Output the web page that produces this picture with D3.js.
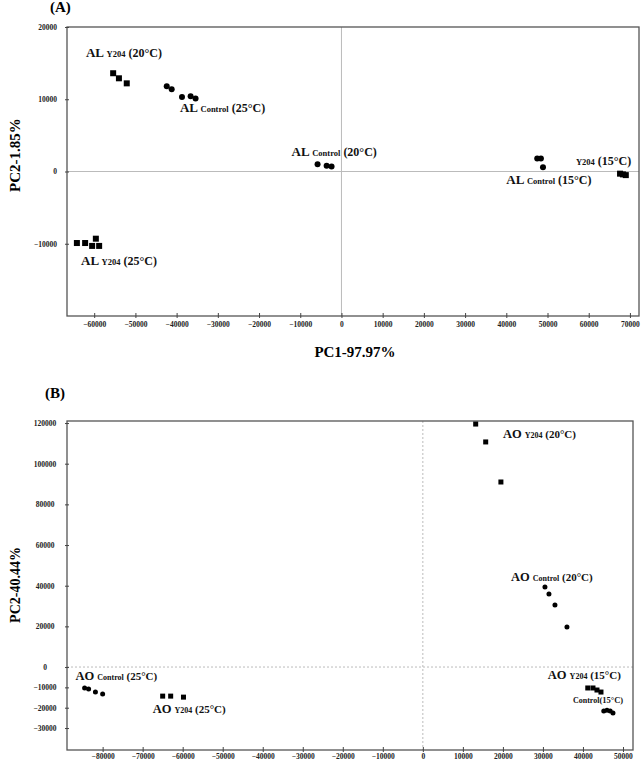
<!DOCTYPE html>
<html><head><meta charset="utf-8">
<script src="https://cdn.jsdelivr.net/npm/d3@7"></script>
<style>
body{margin:0;background:#fff;}
svg{display:block;font-family:"Liberation Serif","Times New Roman",serif;font-weight:bold;}
</style></head>
<body><svg id="c" width="643" height="763"></svg>
<script>
// ---------- Panel A data (PC1, PC2) ----------
const alY204_20 = [[-55400,13600],[-54000,12900],[-52100,12200]];
const alControl_25 = [[-42400,11800],[-41200,11400],[-38700,10300],[-36600,10400],[-35400,10100]];
const alControl_20 = [[-5800,1000],[-3600,800],[-2400,700]];
const alControl_15 = [[47500,1800],[48400,1800],[48900,600]];
const alY204_15 = [[67600,-300],[68300,-400],[69000,-500]];
const alY204_25 = [[-64200,-9900],[-62200,-9900],[-60500,-10300],[-59600,-9300],[-58800,-10300]];
const aXTicks = [-60000,-50000,-40000,-30000,-20000,-10000,0,10000,20000,30000,40000,50000,60000,70000];
const aYTicks = [20000,10000,0,-10000];

// ---------- Panel B data ----------
const aoY204_20 = [[13200,119500],[15700,110700],[19500,91000]];
const aoControl_20 = [[30500,39400],[31500,35900],[33000,30500],[36000,19700]];
const aoY204_15 = [[41200,-10300],[42500,-10300],[43500,-11300],[44500,-12300]];
const aoControl_15 = [[45200,-21600],[46000,-21200],[46800,-21600],[47500,-22600]];
const aoControl_25 = [[-84500,-10300],[-83500,-10800],[-81800,-12300],[-80000,-13300]];
const aoY204_25 = [[-65000,-14300],[-63000,-14300],[-59800,-14800]];
const bXTicks = [-80000,-70000,-60000,-50000,-40000,-30000,-20000,-10000,0,10000,20000,30000,40000,50000];
const bYTicks = [120000,100000,80000,60000,40000,20000,0,-10000,-20000,-30000];

// labels: [prefix, subscript, suffix, x, y, smallSuffix] in data units
const aLabels = [
  ["AL ","Y204"," (20°C)",-62000,15900,false],
  ["AL ","Control"," (25°C)",-39200,8200,false],
  ["AL ","Control"," (20°C)",-12100,2100,false],
  ["","Y204"," (15°C)",56900,900,false],
  ["AL ","Control"," (15°C)",40000,-1700,false],
  ["AL ","Y204"," (25°C)",-63200,-12900,false]
];
const bLabels = [
  ["AO ","Y204"," (20°C)",20000,112500,false],
  ["AO ","Control"," (20°C)",22000,42500,false],
  ["AO ","Y204"," (15°C)",31200,-5900,false],
  ["","Control","(15°C)",37500,-17800,true],
  ["AO ","Control"," (25°C)",-86800,-6400,false],
  ["AO ","Y204"," (25°C)",-67500,-22600,false]
];

const svg = d3.select("#c");

function panel(opt){
  const x = d3.scaleLinear().domain(opt.xd).range([opt.l,opt.r]);
  const y = d3.scaleLinear().domain(opt.yd).range([opt.b,opt.t]);
  const g = svg.append("g");
  // zero lines
  g.append("line").attr("x1",x(0)).attr("x2",x(0)).attr("y1",opt.t).attr("y2",opt.b)
    .attr("stroke","#bbb").attr("stroke-width",1).attr("stroke-dasharray",opt.dash||null);
  g.append("line").attr("x1",opt.l).attr("x2",opt.r).attr("y1",y(0)).attr("y2",y(0))
    .attr("stroke","#bbb").attr("stroke-width",1).attr("stroke-dasharray",opt.dash||null);
  // frame
  g.append("rect").attr("x",opt.l).attr("y",opt.t).attr("width",opt.r-opt.l).attr("height",opt.b-opt.t)
    .attr("fill","none").attr("stroke","#555").attr("stroke-width",1.3);
  // axes ticks
  const xa = d3.axisBottom(x).tickValues(opt.xt).tickSize(3).tickFormat(d3.format("d"));
  const xg = g.append("g").attr("transform",`translate(0,${opt.b})`).call(xa);
  xg.select(".domain").remove();
  xg.selectAll(".tick line").attr("stroke","#444").attr("y1",-3).attr("y2",2);
  xg.selectAll(".tick text").attr("y",opt.xly).attr("dy",0).attr("font-size",7.5)
    .attr("font-family","Liberation Serif,serif").attr("font-weight","bold").attr("fill","#222");
  const ya = d3.axisLeft(y).tickValues(opt.yt).tickSize(3).tickFormat(d3.format("d"));
  const yg = g.append("g").attr("transform",`translate(${opt.l},0)`).call(ya);
  yg.select(".domain").remove();
  yg.selectAll(".tick line").attr("stroke","#444").attr("x1",-2).attr("x2",2);
  yg.selectAll(".tick text").attr("x",opt.ylx-opt.l).attr("text-anchor",opt.yAnchor).attr("dy","0.32em")
    .attr("font-size",7.5).attr("font-family","Liberation Serif,serif").attr("font-weight","bold").attr("fill","#222");
  // points
  opt.series.forEach(s=>{
    if(s.shape==="sq"){
      g.selectAll(null).data(s.data).enter().append("rect")
        .attr("x",d=>x(d[0])-s.size/2).attr("y",d=>y(d[1])-s.size/2)
        .attr("width",s.size).attr("height",s.size).attr("fill","#000");
    } else {
      g.selectAll(null).data(s.data).enter().append("circle")
        .attr("cx",d=>x(d[0])).attr("cy",d=>y(d[1])).attr("r",s.size/2).attr("fill","#000");
    }
  });
  // labels
  opt.labels.forEach(L=>{
    const t = g.append("text").attr("x",x(L[3])).attr("y",y(L[4])).attr("fill","#111");
    if(L[0]) t.append("tspan").attr("font-size",opt.big).text(L[0]);
    t.append("tspan").attr("font-size",opt.small).text(L[1]);
    t.append("tspan").attr("font-size",L[5]?opt.small+0.5:opt.mid).text(L[2]);
  });
  return {x,y};
}

panel({
  xd:[-66600,72200], yd:[-20000,20000], l:67, r:639, t:27, b:316,
  xt:aXTicks, yt:aYTicks, xly:11, ylx:57, yAnchor:"end",
  big:13, small:8.5, mid:12,
  series:[
    {data:alY204_20,shape:"sq",size:6},
    {data:alControl_25,shape:"c",size:6},
    {data:alControl_20,shape:"c",size:6},
    {data:alControl_15,shape:"c",size:6},
    {data:alY204_15,shape:"sq",size:6},
    {data:alY204_25,shape:"sq",size:6}
  ],
  labels:aLabels
});

panel({
  xd:[-88900,52500], yd:[-40800,121000], l:67, r:633, t:421, b:750,
  xt:bXTicks, yt:bYTicks, xly:9, ylx:45, yAnchor:"middle", dash:"2,2",
  big:12.5, small:8, mid:11,
  series:[
    {data:aoY204_20,shape:"sq",size:5},
    {data:aoControl_20,shape:"c",size:5},
    {data:aoY204_15,shape:"sq",size:5},
    {data:aoControl_15,shape:"c",size:5},
    {data:aoControl_25,shape:"c",size:5},
    {data:aoY204_25,shape:"sq",size:5}
  ],
  labels:bLabels
});

// panel captions and axis titles
svg.append("text").attr("x",50).attr("y",12).attr("font-size",15).text("(A)");
svg.append("text").attr("x",45).attr("y",398).attr("font-size",15).text("(B)");
svg.append("text").attr("x",355).attr("y",357).attr("text-anchor","middle").attr("font-size",15).text("PC1-97.97%");
svg.append("text").attr("transform","translate(20,155) rotate(-90)").attr("text-anchor","middle").attr("font-size",15).text("PC2-1.85%");
svg.append("text").attr("transform","translate(20,585) rotate(-90)").attr("text-anchor","middle").attr("font-size",14).text("PC2-40.44%");
</script></body></html>
